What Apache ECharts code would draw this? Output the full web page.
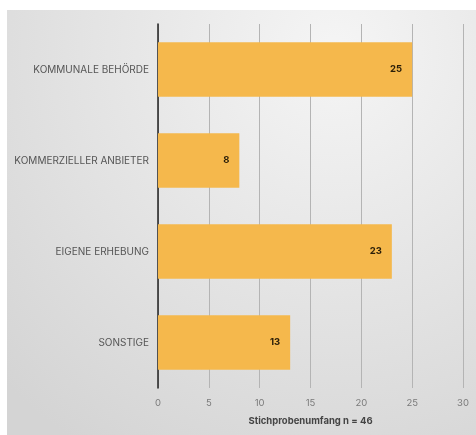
<!DOCTYPE html>
<html><head><meta charset="utf-8">
<script src="https://cdn.jsdelivr.net/npm/echarts@6/dist/echarts.min.js"></script>
<style>html,body{margin:0;padding:0;background:#fff}#c{width:476px;height:435px}</style>
</head><body><div id="c"></div>
<script>
const categories = ['KOMMUNALE BEHÖRDE', 'KOMMERZIELLER ANBIETER', 'EIGENE ERHEBUNG', 'SONSTIGE'];
const values = [25, 8, 23, 13];
const xTicks = [0, 5, 10, 15, 20, 25, 30];
const axisTitle = 'Stichprobenumfang n = 46';

const chart = echarts.init(document.getElementById('c'));
chart.setOption({
  animation: false,
  graphic: [{
    type: 'rect', z: -10, silent: true,
    shape: {x: 7, y: 10, width: 469, height: 425},
    style: {fill: new echarts.graphic.RadialGradient(0.7, 0.1, 1.1, [
      {offset: 0, color: '#f5f5f5'}, {offset: 1, color: '#d4d4d4'}])}
  }],
  grid: {left: 158, right: 13, top: 24, bottom: 47},
  xAxis: {
    type: 'value', min: xTicks[0], max: xTicks[xTicks.length - 1], interval: 5,
    name: axisTitle, nameLocation: 'middle', nameGap: 28,
    nameTextStyle: {fontFamily: 'Inter', fontWeight: 'bold', fontSize: 9.5, color: '#444'},
    axisLine: {show: false}, axisTick: {show: false},
    axisLabel: {fontFamily: 'Inter', fontSize: 9.5, color: '#7a7a7a', margin: 10},
    splitLine: {lineStyle: {color: '#b4b4b4', width: 1}}
  },
  yAxis: {
    type: 'category', data: categories, inverse: true,
    axisLine: {lineStyle: {color: '#222', width: 1.5}}, axisTick: {show: false},
    axisLabel: {fontFamily: 'Inter', fontSize: 10, color: '#555', margin: 9}
  },
  series: [{
    type: 'bar', data: values, barWidth: '60%',
    itemStyle: {color: '#f5b84c'},
    label: {show: true, position: 'insideRight', distance: 10, fontFamily: 'Inter', fontWeight: 'bold', fontSize: 9.5, color: '#2a1e08'}
  }]
});
</script></body></html>
